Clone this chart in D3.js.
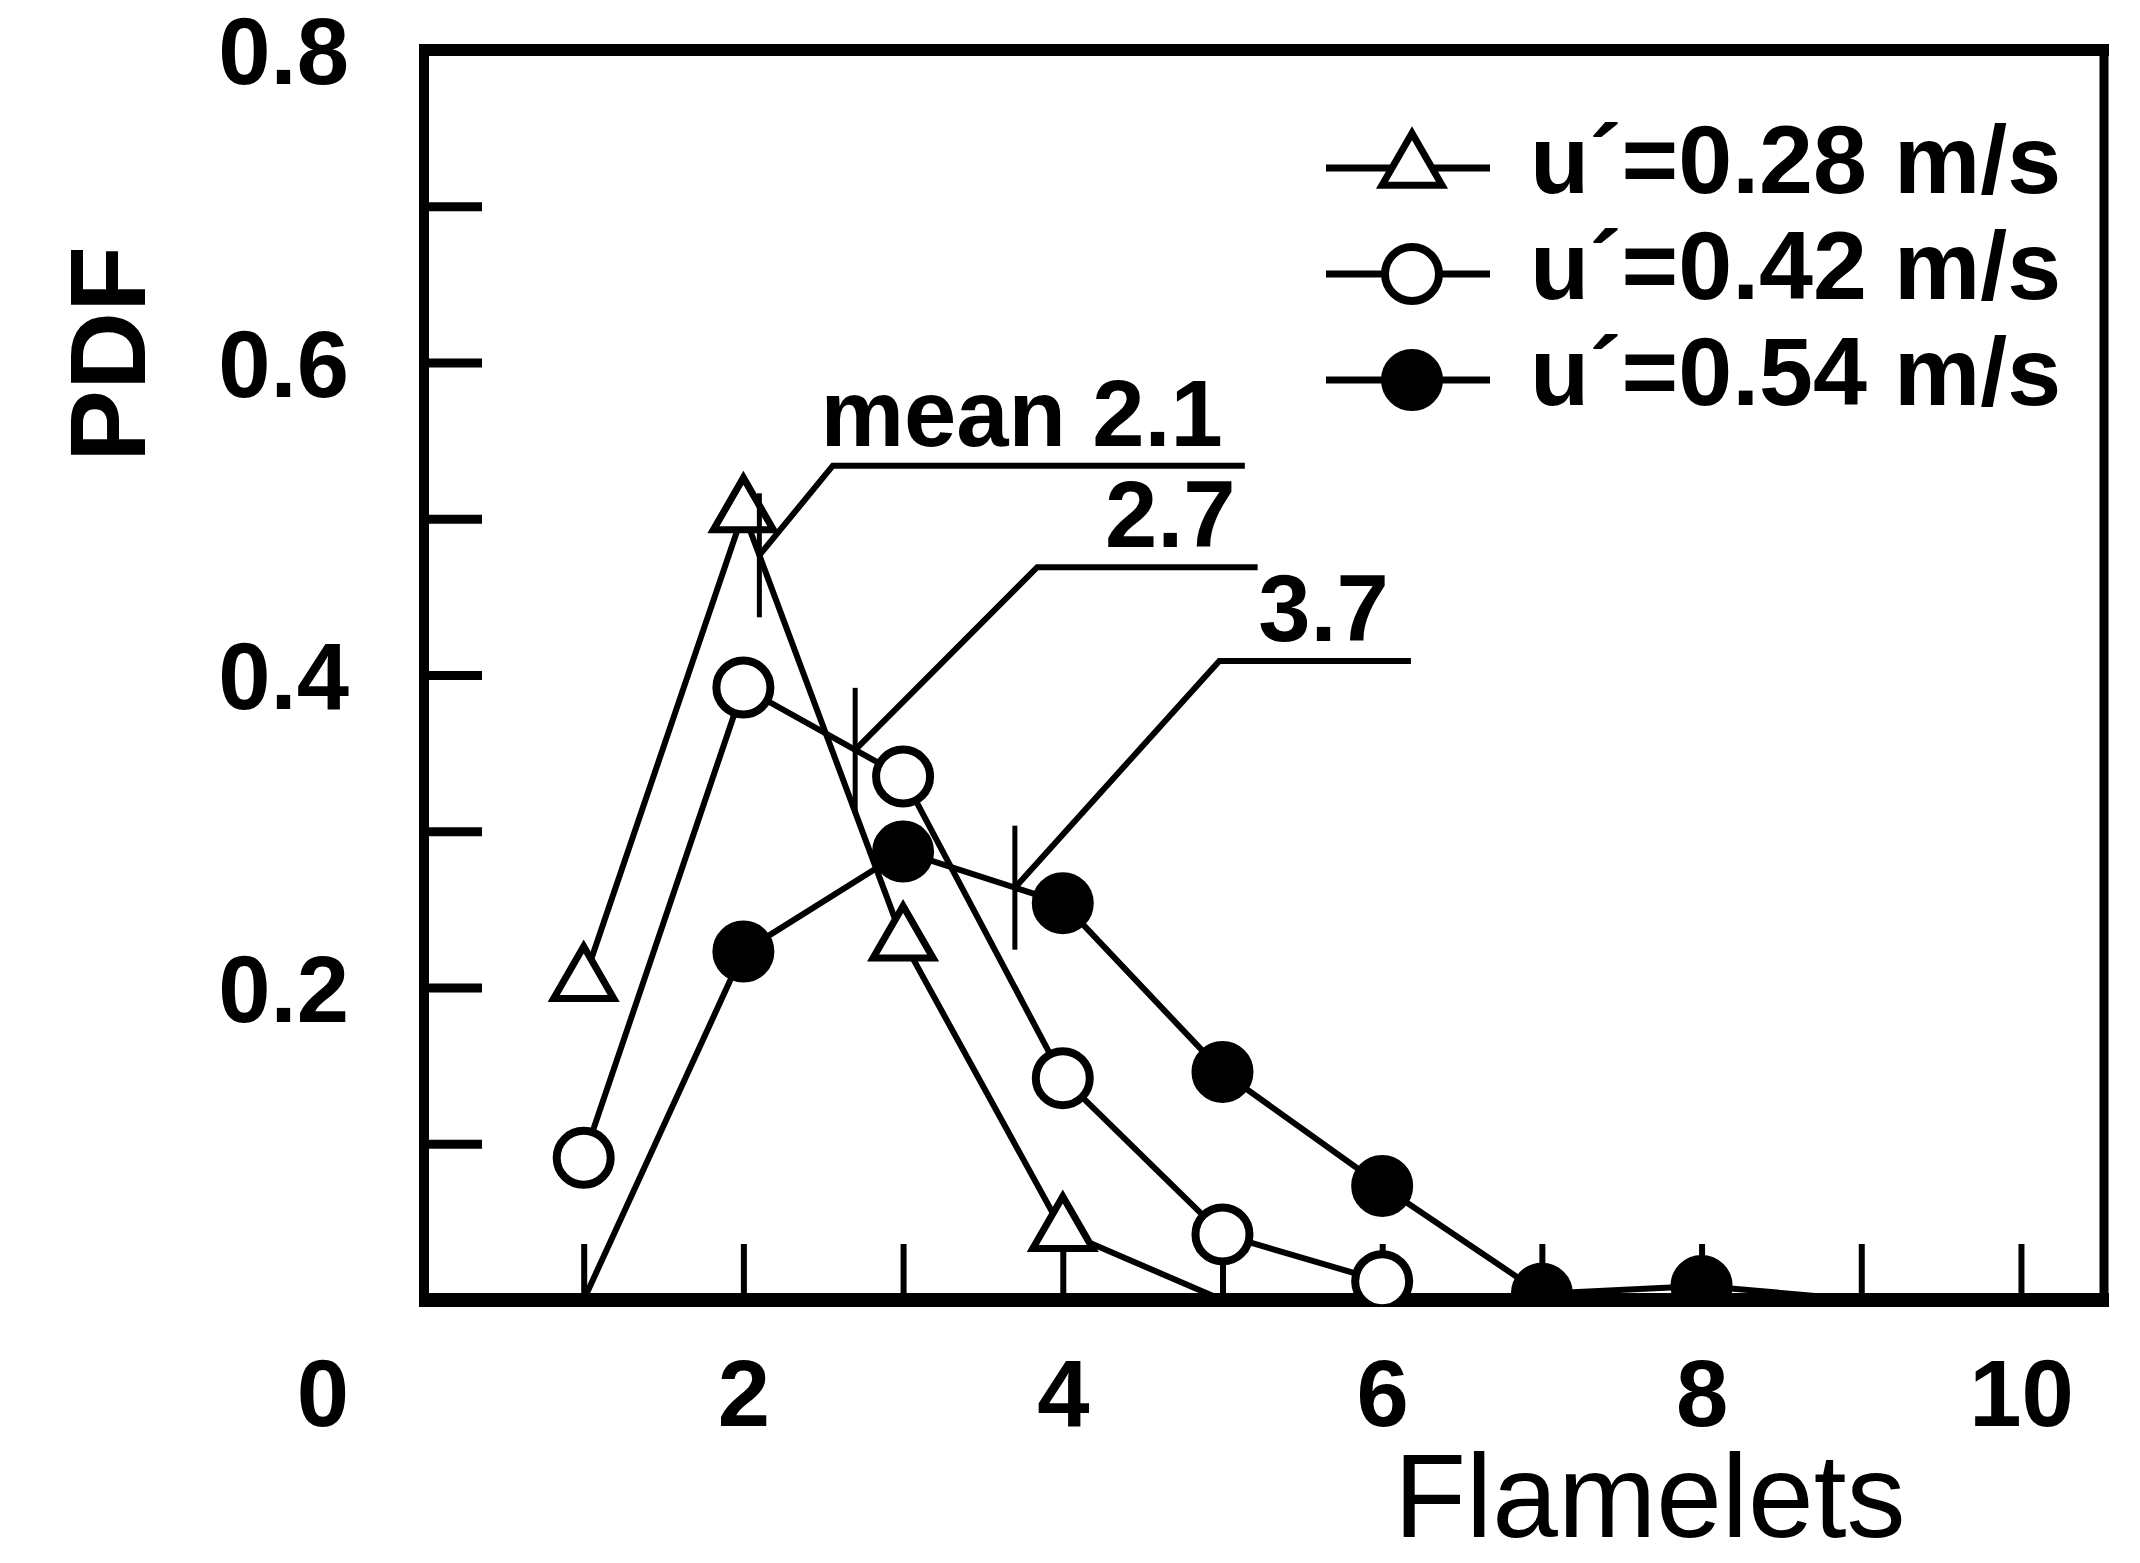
<!DOCTYPE html>
<html>
<head>
<meta charset="utf-8">
<script src="https://cdn.jsdelivr.net/npm/d3@7"></script>
<style>
  html, body { margin: 0; padding: 0; background: #fff; }
  svg { display: block; }
  text { font-family: "Liberation Sans", Arial, Helvetica, sans-serif; fill: #000; }
</style>
</head>
<body>
<svg id="chart" width="2140" height="1563"></svg>
<script>
// ---------- data ----------
const flamelets = [1, 2, 3, 4, 5, 6, 7, 8, 9];
const pdfLow  = [0.204, 0.504, 0.230, 0.044, 0];                  // u'=0.28 m/s (triangles)
const pdfMid  = [0.091, 0.392, 0.335, 0.142, 0.042, 0.012];        // u'=0.42 m/s (open circles)
const pdfHigh = [0, 0.223, 0.287, 0.254, 0.146, 0.073, 0.004, 0.009, 0]; // u'=0.54 m/s (filled circles)
const seriesNames = ["u\u00B4=0.28 m/s", "u\u00B4=0.42 m/s", "u\u00B4=0.54 m/s"];

const meanValues = [2.1, 2.7, 3.7];
const meanLabels = ["mean 2.1", "2.7", "3.7"];
const meanKneeX  = [2.56, 3.84, 4.98];
const meanKneeY  = [0.534, 0.469, 0.409];
const meanEndX   = [5.14, 5.22, 6.18];

const xTickValues  = [1, 2, 3, 4, 5, 6, 7, 8, 9, 10];
const xLabelValues = [2, 4, 6, 8, 10];
const yTickValues  = [0.1, 0.2, 0.3, 0.4, 0.5, 0.6, 0.7];
const yLabelValues = [0.2, 0.4, 0.6, 0.8];
const xTitle = "Flamelets";
const yTitle = "PDF";

// ---------- layout ----------
const svg = d3.select("#chart");
const x = d3.scaleLinear().domain([0, 10.52]).range([424, 2104]);
const y = d3.scaleLinear().domain([0, 0.8]).range([1300, 50]);
const tickFont = "94px";

const series = [pdfLow, pdfMid, pdfHigh].map((vals, i) => ({
  name: seriesNames[i],
  sym: ["triangle", "open", "filled"][i],
  pts: vals.map((v, j) => ({ x: flamelets[j], v }))
}));

// clip for markers (nothing below the x axis)
svg.append("defs").append("clipPath").attr("id", "plotclip")
  .append("rect")
  .attr("x", x(0)).attr("y", y(0.8) - 10)
  .attr("width", x(10.52) - x(0)).attr("height", y(0) - y(0.8) + 17);

// ---------- axes ticks (inside) ----------
const xTicks = svg.append("g").attr("transform", `translate(0,${y(0)})`)
  .call(d3.axisBottom(x).tickValues(xTickValues).tickSize(-56).tickFormat(""));
xTicks.select(".domain").remove();
xTicks.selectAll("line").attr("stroke", "#000").attr("stroke-width", 6);

const yTicks = svg.append("g").attr("transform", `translate(${x(0)},0)`)
  .call(d3.axisLeft(y).tickValues(yTickValues).tickSize(-58).tickFormat(""));
yTicks.select(".domain").remove();
yTicks.selectAll("line").attr("stroke", "#000").attr("stroke-width", 9);

// ---------- frame ----------
const frame = svg.append("g").attr("stroke", "#000").attr("fill", "none");
frame.append("line").attr("x1", x(0) - 5).attr("x2", x(10.52) + 5).attr("y1", y(0.8)).attr("y2", y(0.8)).attr("stroke-width", 12);
frame.append("line").attr("x1", x(0) - 5).attr("x2", x(10.52) + 5).attr("y1", y(0)).attr("y2", y(0)).attr("stroke-width", 14);
frame.append("line").attr("x1", x(0)).attr("x2", x(0)).attr("y1", y(0.8)).attr("y2", y(0)).attr("stroke-width", 10);
frame.append("line").attr("x1", x(10.52)).attr("x2", x(10.52)).attr("y1", y(0.8)).attr("y2", y(0)).attr("stroke-width", 9);

// ---------- tick labels ----------
const xLab = svg.append("g").attr("transform", `translate(0,${y(0)})`)
  .call(d3.axisBottom(x).tickValues(xLabelValues).tickSize(0).tickPadding(0).tickFormat(d3.format("d")));
xLab.select(".domain").remove();
xLab.selectAll("text").attr("y", 126).attr("dy", 0)
  .style("font-size", tickFont).style("font-weight", "bold")
  .style("font-family", "'Liberation Sans', Arial, sans-serif").attr("fill", "#000");

const yLab = svg.append("g").attr("transform", `translate(${x(0)},0)`)
  .call(d3.axisLeft(y).tickValues(yLabelValues).tickSize(0).tickPadding(75).tickFormat(d3.format(".1f")));
yLab.select(".domain").remove();
yLab.selectAll("text").attr("dy", "0.36em")
  .style("font-size", tickFont).style("font-weight", "bold")
  .style("font-family", "'Liberation Sans', Arial, sans-serif").attr("fill", "#000");

// origin label "0"
svg.append("text").attr("x", x(0) - 75).attr("y", y(0) + 126)
  .attr("text-anchor", "end").style("font-size", tickFont).style("font-weight", "bold").text("0");

// axis titles
svg.append("text").attr("transform", `translate(145,354) rotate(-90)`)
  .attr("text-anchor", "middle").style("font-size", "108px").style("font-weight", "bold").text(yTitle);
svg.append("text").attr("x", 1394).attr("y", 1537)
  .attr("text-anchor", "start").style("font-size", "118px").text(xTitle);

// ---------- series lines ----------
const line = d3.line().x(d => x(d.x)).y(d => y(d.v));
svg.append("g").selectAll("path").data(series).join("path")
  .attr("d", d => line(d.pts)).attr("fill", "none")
  .attr("stroke", "#000").attr("stroke-width", 6).attr("stroke-linejoin", "round");

// ---------- markers ----------
const triPath = (s) => {
  const h = s * 0.866;
  return `M0,${-2 * h / 3}L${s / 2},${h / 3}L${-s / 2},${h / 3}Z`;
};
const mk = svg.append("g").attr("clip-path", "url(#plotclip)");
series.forEach(s => {
  const pts = s.pts.filter(d => d.v > 0);
  const g = mk.append("g");
  if (s.sym === "triangle") {
    g.selectAll("path").data(pts).join("path")
      .attr("transform", d => `translate(${x(d.x)},${y(d.v)})`)
      .attr("d", triPath(60)).attr("fill", "#fff").attr("stroke", "#000")
      .attr("stroke-width", 7).attr("stroke-linejoin", "miter");
  } else {
    g.selectAll("circle").data(pts).join("circle")
      .attr("cx", d => x(d.x)).attr("cy", d => y(d.v)).attr("r", 27)
      .attr("fill", s.sym === "filled" ? "#000" : "#fff")
      .attr("stroke", "#000").attr("stroke-width", 8);
  }
});

// ---------- mean annotations ----------
const interp = (pts, xv) => {
  for (let i = 0; i < pts.length - 1; i++) {
    if (xv >= pts[i].x && xv <= pts[i + 1].x) {
      const t = (xv - pts[i].x) / (pts[i + 1].x - pts[i].x);
      return pts[i].v + t * (pts[i + 1].v - pts[i].v);
    }
  }
  return 0;
};
const ann = svg.append("g");
meanValues.forEach((m, i) => {
  const mv = interp(series[i].pts, m);
  const mx = x(m), my = y(mv);
  ann.append("line").attr("x1", mx).attr("x2", mx).attr("y1", my - 62).attr("y2", my + 62)
    .attr("stroke", "#000").attr("stroke-width", 5);
  ann.append("path")
    .attr("d", d3.line()([[mx, my], [x(meanKneeX[i]), y(meanKneeY[i])], [x(meanEndX[i]), y(meanKneeY[i])]]))
    .attr("fill", "none").attr("stroke", "#000").attr("stroke-width", 6);
  ann.append("text").attr("x", x(meanEndX[i]) - 22).attr("y", y(meanKneeY[i]) - 20)
    .attr("text-anchor", "end").style("font-size", tickFont).style("font-weight", "bold")
    .text(meanLabels[i]);
});

// ---------- legend ----------
const legend = svg.append("g");
series.forEach((s, i) => {
  const ly = 168 + i * 106;
  const g = legend.append("g");
  g.append("line").attr("x1", 1326).attr("x2", 1490).attr("y1", ly).attr("y2", ly)
    .attr("stroke", "#000").attr("stroke-width", 7);
  if (s.sym === "triangle") {
    g.append("path").attr("transform", `translate(1412,${ly})`).attr("d", triPath(60))
      .attr("fill", "#fff").attr("stroke", "#000").attr("stroke-width", 7);
  } else {
    g.append("circle").attr("cx", 1412).attr("cy", ly).attr("r", 27)
      .attr("fill", s.sym === "filled" ? "#000" : "#fff").attr("stroke", "#000").attr("stroke-width", 8);
  }
  g.append("text").attr("x", 1530).attr("y", ly + 25)
    .style("font-size", "97px").style("font-weight", "bold").text(s.name);
});
</script>
</body>
</html>
